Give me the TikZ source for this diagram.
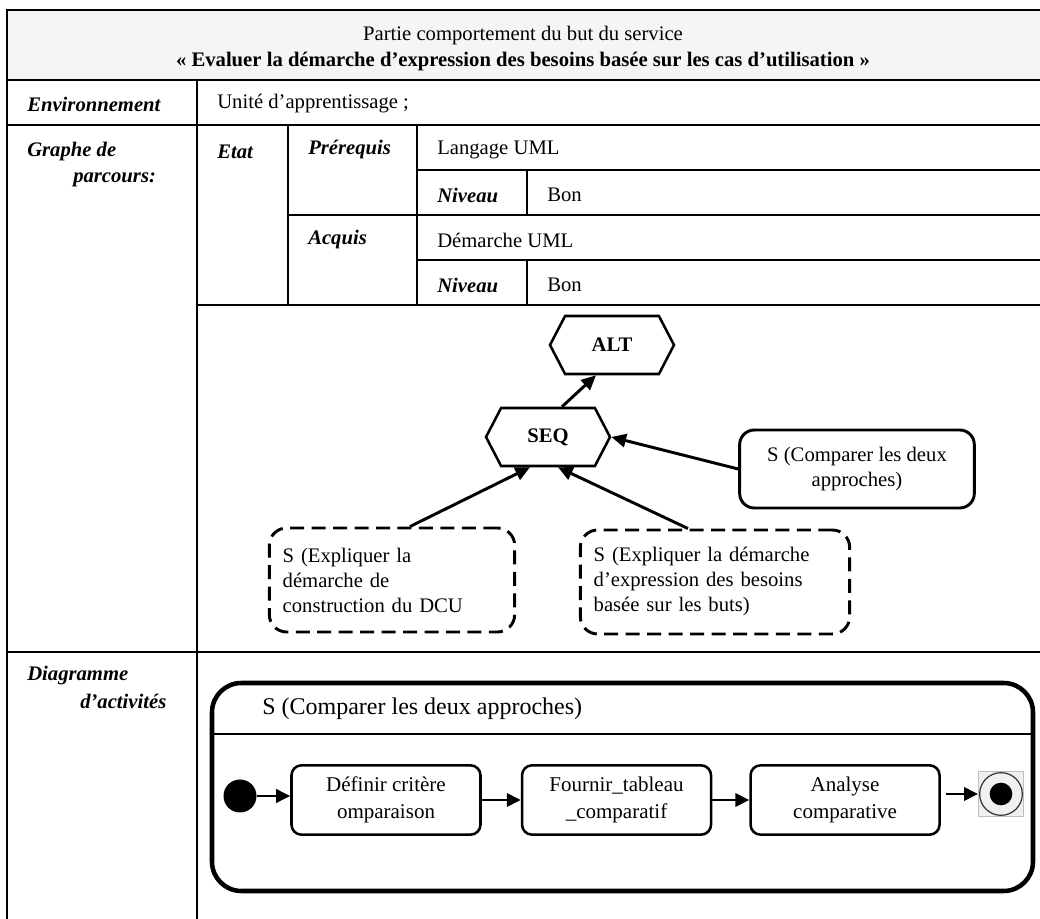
\documentclass[tikz,border=0pt]{standalone}
\usepackage{fontspec}
\setmainfont{Liberation Serif}
\usetikzlibrary{positioning,arrows.meta,calc,shapes.symbols}

\begin{document}
\begin{tikzpicture}[
  x=0.75pt, y=-0.75pt,
  font=\fontsize{15.5pt}{19pt}\selectfont,
  grid/.style = {line width=1.7pt},
  cell/.style = {anchor=west, inner sep=0pt},
  lbl/.style  = {cell, font=\fontsize{15.5pt}{19pt}\selectfont\bfseries\itshape},
  hexa/.style = {shape=signal, signal to=east and west, signal pointer angle=125,
                 draw, line width=1.9pt, minimum width=93pt, minimum height=43.5pt,
                 inner sep=0pt, font=\fontsize{15.5pt}{19pt}\selectfont\bfseries},
  svc/.style  = {draw, line width=2.2pt, rounded corners=11pt, align=center,
                 minimum width=176pt, minimum height=58.5pt},
  opt/.style  = {draw, line width=2.2pt, dash pattern=on 10.5pt off 5.6pt,
                 rounded corners=13pt, align=left, inner xsep=10pt,
                 minimum height=78pt, font=\fontsize{15.5pt}{18.75pt}\selectfont},
  act/.style  = {draw, line width=1.9pt, rounded corners=7.5pt, align=center,
                 minimum width=141.75pt, minimum height=52pt, inner sep=2pt,
                 font=\fontsize{15.75pt}{20pt}\selectfont},
  link/.style = {line width=2.2pt, -{Triangle[length=11pt,width=10pt]}},
  flow/.style = {line width=1.9pt, -{Triangle[length=10.5pt,width=10pt]}}
]
\useasboundingbox (0,0) rectangle (1040,919);
\clip (0,0) rectangle (1040,919);

% ---------- table -----------------------------------------------------------
\fill[black!4] (7,10) rectangle (1045,80);
\draw[grid] (1045,10) -- (7,10) -- (7,925);
\draw[grid] (7,80) -- (1045,80);
\draw[grid] (7,125) -- (1045,125);
\draw[grid] (197,80) -- (197,925);
\draw[grid] (288,125) -- (288,305);
\draw[grid] (417,125) -- (417,305);
\draw[grid] (527,170) -- (527,215);
\draw[grid] (527,260) -- (527,305);
\draw[grid] (417,170) -- (1045,170);
\draw[grid] (288,215) -- (1045,215);
\draw[grid] (417,260) -- (1045,260);
\draw[grid] (197,305) -- (1045,305);
\draw[grid] (7,652) -- (1045,652);

\node (hd1) at (523,36) {Partie comportement du but du service};
\node[font=\fontsize{15.5pt}{19pt}\selectfont\bfseries] (hd2) at (523,62)
  {« Evaluer la démarche d’expression des besoins basée sur les cas d’utilisation »};

\node[lbl]  (env)  at (27,104)  {Environnement};
\node[cell] (envv) at (217,104) {Unité d’apprentissage ;};
\node[lbl]  (gr1)  at (27,152)  {Graphe de};
\node[lbl]  (gr2)  at (73,180)  {parcours:};
\node[lbl]  (etat) at (217,152) {Etat};
\node[lbl]  (pre)  at (308,150) {Prérequis};
\node[cell] (prev) at (437,150) {Langage UML};
\node[lbl]  (niv1) at (437,195) {Niveau};
\node[cell] (bon1) at (547,195) {Bon};
\node[lbl]  (acq)  at (308,240) {Acquis};
\node[cell] (acqv) at (437,240) {Démarche UML};
\node[lbl]  (niv2) at (437,285) {Niveau};
\node[cell] (bon2) at (547,285) {Bon};
\node[lbl]  (dia1) at (27,676)  {Diagramme};
\node[lbl]  (dia2) at (80,701)  {d’activités};

% ---------- graphe de parcours ----------------------------------------------
\node[hexa] (alt) at (612,345) {ALT};
\node[hexa] (seq) at (548,437) {SEQ};
\node[svc]  (cmp) at (857,469) {S (Comparer les deux\\approches)};
\node[opt, text width=164pt] (dcu) at (392,580)
  {S (Expliquer la\\démarche de\\construction du DCU};
\node[opt, text width=182pt] (but) at (715,582)
  {S (Expliquer la démarche\\d’expression des besoins\\basée sur les buts)};

\draw[link] ($(seq.north)+(14,0)$) -- ($(alt.south)+(-16,0)$);
\draw[link] ($(dcu.north)+(18,0)$) -- ($(seq.south)+(-18,0)$);
\draw[link] ($(but.north)+(-27,0)$) -- ($(seq.south)+(10,0)$);
\draw[link] (cmp.west) -- (seq.east);

% ---------- diagramme d'activites -------------------------------------------
\node[draw, line width=3.4pt, rounded corners=22pt, minimum width=615.75pt,
      minimum height=156pt, inner sep=0pt] (comp) at (622.5,787) {};
\node[cell, font=\fontsize{18pt}{21pt}\selectfont] (ttl) at (262,709)
  {S (Comparer les deux approches)};
\draw[line width=1.5pt] ($(comp.north west)+(0,53)$) -- ($(comp.north east)+(0,53)$);

\node[circle, fill, inner sep=0pt, minimum size=24.75pt] (ini) at (240,796) {};
\node[act] (def) at (386,800) {Définir critère\\omparaison};
\node[act, right=29.25pt of def] (fou) {Fournir\_tableau\\\_comparatif};
\node[act, right=27.75pt of fou] (ana) {Analyse\\comparative};

\node[fill=black!6, draw=black!25, line width=0.5pt, minimum size=34pt,
      inner sep=0pt] (fin) at (1001,794) {};
\node[circle, draw=black!80, line width=0.9pt, minimum size=32pt,
      inner sep=0pt] (ring) at (fin) {};
\node[circle, fill, minimum size=17pt, inner sep=0pt] (dot) at (fin) {};

\draw[flow] (ini.east) -- (ini.east -| def.west);
\draw[flow] (def) -- (fou);
\draw[flow] (fou) -- (ana);
\draw[flow] ($(ana.east |- fin)+(5,0)$) -- (fin.west);

\end{tikzpicture}
\end{document}
